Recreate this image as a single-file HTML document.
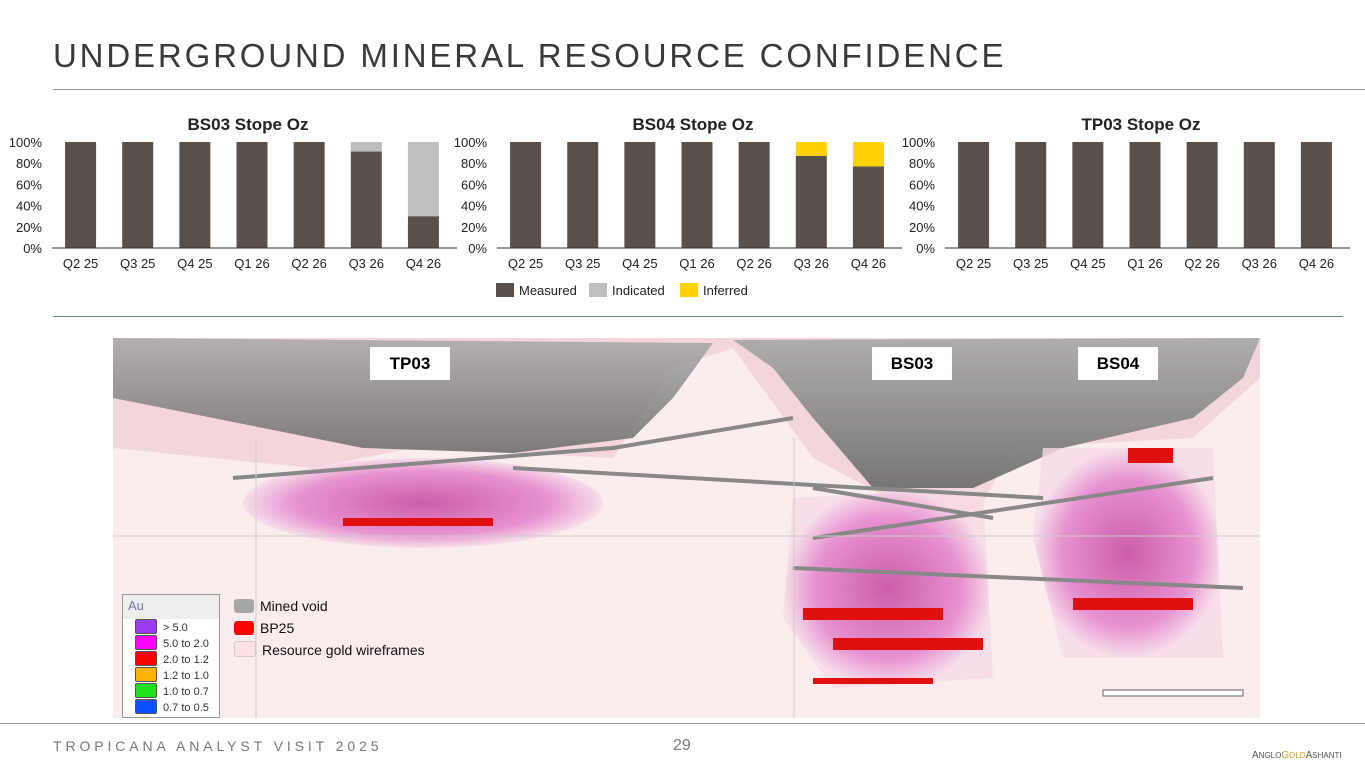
<!DOCTYPE html>
<html><head><meta charset="utf-8"><style>
body{margin:0;width:1365px;height:768px;background:#fff;font-family:"Liberation Sans",Arial,sans-serif;position:relative;overflow:hidden}
.abs{position:absolute}
</style></head><body>
<div class="abs" style="left:53px;top:37px;font-size:33px;letter-spacing:2.85px;color:#3a3a3a">UNDERGROUND MINERAL RESOURCE CONFIDENCE</div>
<div class="abs" style="left:53px;top:89px;width:1312px;height:1px;background:#999"></div>
<svg class="abs" style="left:0;top:100px" width="1365" height="220" id="charts"></svg>
<div class="abs" style="left:53px;top:316px;width:1290px;height:1px;background:#6c8a78"></div>

<svg class="abs" style="left:113px;top:338px" width="1147" height="380">
<defs>
<linearGradient id="g" x1="0" y1="0" x2="0" y2="1"><stop offset="0" stop-color="#a8a8a8"/><stop offset="1" stop-color="#6a6a6a"/></linearGradient>
<radialGradient id="ore" cx=".5" cy=".5" r=".5"><stop offset="0" stop-color="#c0399a"/><stop offset=".7" stop-color="#e27bc8"/><stop offset="1" stop-color="#f6dbe8"/></radialGradient>
</defs>
<rect width="1147" height="380" fill="#fbecee"/>
<path d="M0,0 L1147,0 L1147,40 L1080,100 L900,110 L850,200 L700,120 L620,10 L560,30 L500,120 L300,110 L200,130 L0,110Z" fill="#f3d6db"/>
<path d="M0,0 L600,5 L560,60 L520,100 L400,115 L250,110 L150,90 L100,80 L0,60Z" fill="url(#g)" opacity=".85"/>
<path d="M620,2 L1147,0 L1130,40 L1080,80 L950,110 L860,150 L760,150 L700,80 L660,30Z" fill="url(#g)" opacity=".9"/>
<ellipse cx="310" cy="165" rx="180" ry="45" fill="url(#ore)" opacity=".8"/>
<path d="M680,160 L870,150 L880,340 L720,350 L670,280Z" fill="url(#ore)" opacity=".8"/>
<path d="M930,110 L1100,110 L1110,320 L950,320 L920,200Z" fill="url(#ore)" opacity=".8"/>
<g fill="#e01010">
<rect x="230" y="180" width="150" height="8"/><rect x="690" y="270" width="140" height="12"/><rect x="720" y="300" width="150" height="12"/><rect x="960" y="260" width="120" height="12"/><rect x="1015" y="110" width="45" height="15"/><rect x="700" y="340" width="120" height="6"/>
</g>
<g stroke="#888" stroke-width="4" fill="none">
<path d="M120,140 L500,110 L680,80 M400,130 L930,160 M700,200 L1100,140 M680,230 L1130,250 M700,150 L880,180"/>
</g>
<line x1="0" y1="198" x2="1147" y2="198" stroke="#ccc"/>
<line x1="143" y1="100" x2="143" y2="380" stroke="#ccc"/>
<line x1="681" y1="100" x2="681" y2="380" stroke="#ccc"/>
<g fill="#fff" stroke="#666"><rect x="990" y="352" width="140" height="6"/></g>
</svg>
<div class="abs" style="left:370px;top:347px;width:80px;height:33px;background:#fff;font-weight:bold;font-size:17px;text-align:center;line-height:33px">TP03</div>
<div class="abs" style="left:872px;top:347px;width:80px;height:33px;background:#fff;font-weight:bold;font-size:17px;text-align:center;line-height:33px">BS03</div>
<div class="abs" style="left:1078px;top:347px;width:80px;height:33px;background:#fff;font-weight:bold;font-size:17px;text-align:center;line-height:33px">BS04</div>

<div class="abs" style="left:122px;top:594px;width:96px;height:122px;background:#fff;border:1px solid #999;font-size:11px;color:#333">
<div style="background:#eee;color:#7079a8;font-size:13px;padding:3px 5px;height:18px">Au</div>
<div id="aul"></div></div>
<div class="abs" style="left:234px;top:595px;font-size:14px;color:#111;line-height:22px">
<div><span style="display:inline-block;width:20px;height:14px;background:#a6a6a6;border-radius:3px;vertical-align:-2px;margin-right:6px"></span>Mined void</div>
<div><span style="display:inline-block;width:20px;height:14px;background:#f00;border-radius:3px;vertical-align:-2px;margin-right:6px"></span>BP25</div>
<div><span style="display:inline-block;width:20px;height:14px;background:#fde1e7;border:1px solid #ccc;border-radius:3px;vertical-align:-2px;margin-right:6px"></span>Resource gold wireframes</div>
</div>

<div class="abs" style="left:0;top:723px;width:1365px;height:1px;background:#999"></div>
<div class="abs" style="left:53px;top:738px;font-size:14px;letter-spacing:3.9px;color:#777">TROPICANA ANALYST VISIT 2025</div>
<div class="abs" style="left:673px;top:737px;font-size:16px;color:#777">29</div>
<div class="abs" style="left:1252px;top:750px;font-size:10px;color:#555">A<span style="font-size:8px">NGLO</span><span style="color:#c9a227">G<span style="font-size:8px">OLD</span></span>A<span style="font-size:8px">SHANTI</span></div>

<script>
const categories=["Q2 25","Q3 25","Q4 25","Q1 26","Q2 26","Q3 26","Q4 26"];
const chartTitles=["BS03 Stope Oz","BS04 Stope Oz","TP03 Stope Oz"];
const measuredBS03=[100,100,100,100,100,91,30];
const indicatedBS03=[0,0,0,0,0,9,70];
const inferredBS03=[0,0,0,0,0,0,0];
const measuredBS04=[100,100,100,100,100,87,77];
const indicatedBS04=[0,0,0,0,0,0,0];
const inferredBS04=[0,0,0,0,0,13,23];
const measuredTP03=[100,100,100,100,100,100,100];
const indicatedTP03=[0,0,0,0,0,0,0];
const inferredTP03=[0,0,0,0,0,0,0];
const yTicks=[0,20,40,60,80,100];
const seriesNames=["Measured","Indicated","Inferred"];
const colors=["#595049","#bfbfbf","#ffd200"];
const auLabels=["> 5.0","5.0 to 2.0","2.0 to 1.2","1.2 to 1.0","1.0 to 0.7","0.7 to 0.5"];
const auColors=["#9b3bf0","#ff00ff","#f00","#ffb400","#1ee01e","#0a50ff"];
const NS="http://www.w3.org/2000/svg";
const svg=document.getElementById('charts');
function mk(t,a,p){const e=document.createElementNS(NS,t);for(const k in a)e.setAttribute(k,a[k]);(p||svg).appendChild(e);return e;}
const data=[[measuredBS03,indicatedBS03,inferredBS03],[measuredBS04,indicatedBS04,inferredBS04],[measuredTP03,indicatedTP03,inferredTP03]];
const lefts=[52,497,945];const plotW=400,top0=42,bot=148;
data.forEach((ser,ci)=>{
 const x0=lefts[ci];const step=plotW/categories.length;
 const y=v=>bot-(bot-top0)*v/100;
 const g=mk('g',{});
 
 
 const t=mk('text',{x:x0+plotW/2-4,y:30,'text-anchor':'middle','font-size':17,'font-weight':'bold',fill:'#222'},g);t.textContent=chartTitles[ci];
 
 yTicks.forEach(v=>{const l=mk('text',{x:x0-10,y:y(v)+5,'text-anchor':'end','font-size':13,fill:'#222'},g);l.textContent=v+'%';
  });
 categories.forEach((c,i)=>{const cx=x0+step*(i+0.5);let acc=0;
  ser.forEach((s,si)=>{const v=s[i];if(v>0){const r=mk('rect',{x:cx-15.5,y:y(acc+v),width:31,height:y(acc)-y(acc+v),fill:colors[si]},g);
   }acc+=v;});
  const l=mk('text',{x:cx,y:bot+20,'text-anchor':'middle','font-size':13,fill:'#222'},g);l.textContent=c;
  });
 const ax=mk('line',{x1:x0,x2:x0+plotW+5,y1:bot,y2:bot,stroke:'#333'},g);
 
});
const lx=[496,589,680];
seriesNames.forEach((n,i)=>{const r=mk('rect',{x:lx[i],y:183,width:18,height:14,fill:colors[i]});
 
 const t=mk('text',{x:lx[i]+23,y:195,'font-size':13,fill:'#222'});t.textContent=n;
 });
const aul=document.getElementById('aul');
auLabels.forEach((l,i)=>{const d=document.createElement('div');
 
 
 d.style.cssText='height:16px;line-height:16px;margin-left:12px';
 d.innerHTML='<span style="display:inline-block;width:20px;height:13px;background:'+auColors[i]+';border:1px solid #555;border-radius:2px;vertical-align:-3px;margin-right:6px"></span>'+l;aul.appendChild(d);});
</script>
</body></html>
